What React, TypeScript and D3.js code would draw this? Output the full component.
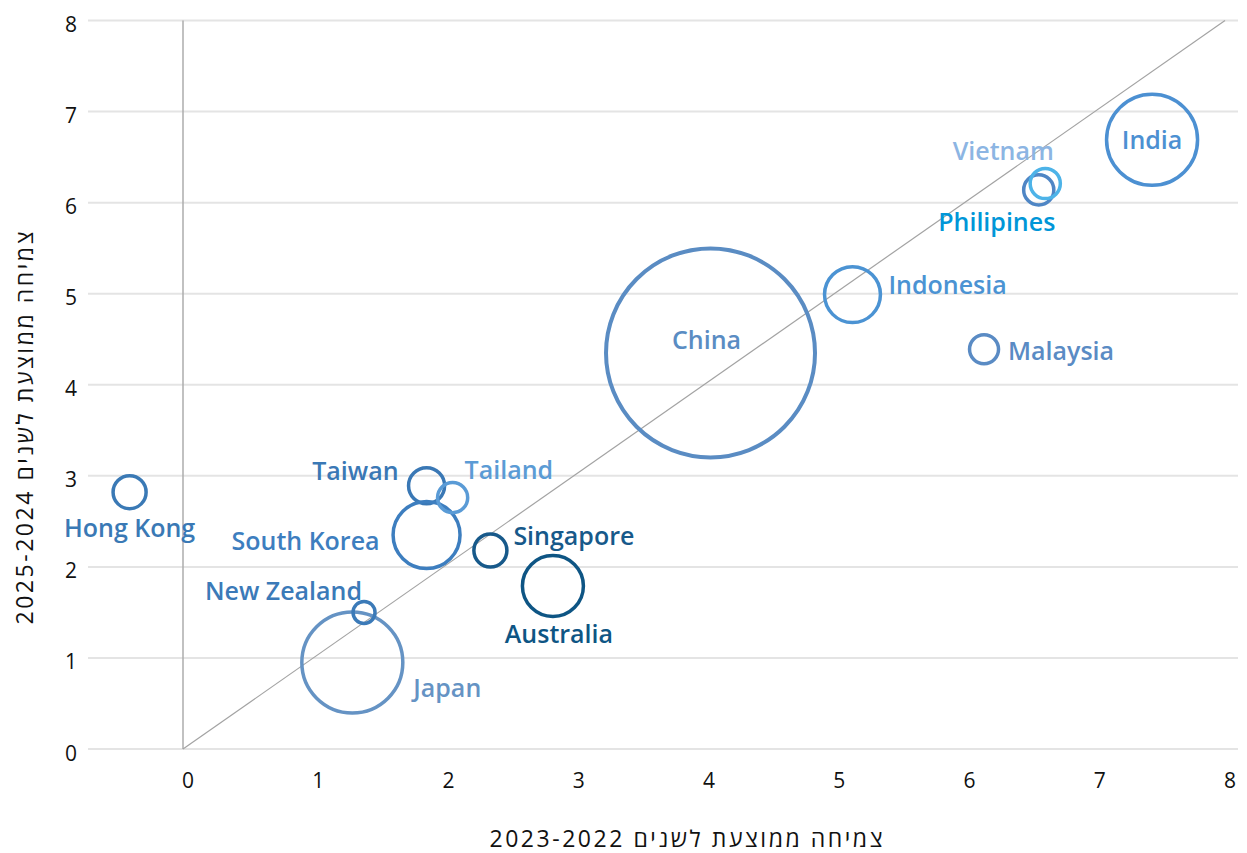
import React from "react";
import * as d3 from "d3";

const countries = ["Japan", "New Zealand", "Taiwan", "South Korea", "Tailand", "Hong Kong", "Singapore", "Australia", "China", "Indonesia", "Malaysia", "Philipines", "Vietnam", "India"];
const growth2223 = [1.30, 1.39, 1.87, 1.87, 2.07, -0.41, 2.36, 2.84, 4.05, 5.14, 6.15, 6.57, 6.62, 7.44];
const growth2425 = [0.95, 1.50, 2.89, 2.35, 2.76, 2.82, 2.18, 1.79, 4.35, 4.99, 4.39, 6.14, 6.21, 6.69];
const gdpSize = [4.33, 0.25, 0.61, 1.96, 0.44, 0.52, 0.52, 1.64, 18.0, 1.39, 0.41, 0.44, 0.44, 3.54];
const xTicks = [0, 1, 2, 3, 4, 5, 6, 7, 8];
const yTicks = [0, 1, 2, 3, 4, 5, 6, 7, 8];
const xTitle = "2023-2022 צמיחה ממוצעת לשנים";
const yTitle = "2025-2024 צמיחה ממוצעת לשנים";

// styling / layout (not data)
const circleColor: Record<string, string> = {
  "Japan": "#6593c4", "New Zealand": "#3b7ab8", "Taiwan": "#3a78b5", "South Korea": "#3d7ebf",
  "Tailand": "#5a9bd6", "Hong Kong": "#3a79b5", "Singapore": "#17598a", "Australia": "#0e5584",
  "China": "#5a8cc3", "Indonesia": "#4b93d3", "Malaysia": "#5a8bc4", "Philipines": "#4f86c5",
  "Vietnam": "#4db3e8", "India": "#4c90d2",
};
const labelColor: Record<string, string> = {
  ...circleColor, "Philipines": "#0096d8", "Vietnam": "#8cb5e3", "Tailand": "#5b9bd5",
};
const labelPlace: Record<string, [number, number, string]> = {
  "Hong Kong": [0, 45, "middle"],
  "Taiwan": [-28, -6, "end"],
  "Tailand": [12, -19, "start"],
  "South Korea": [-47, 15, "end"],
  "Singapore": [23, -5, "start"],
  "Australia": [6, 57, "middle"],
  "New Zealand": [-2, -12, "end"],
  "Japan": [61, 35, "start"],
  "China": [-4, -4, "middle"],
  "Indonesia": [36, -1, "start"],
  "Malaysia": [24, 11, "start"],
  "Philipines": [-42, 41, "middle"],
  "Vietnam": [-42, -24, "middle"],
  "India": [0, 9, "middle"],
};

const W = 1247, H = 853;
const x = d3.scaleLinear().domain([0, 8]).range([183, 1225]);
const y = d3.scaleLinear().domain([0, 8]).range([749, 20.5]);
const r = d3.scaleSqrt().domain([0, 18]).range([0, 106]);
const gridLeft = 88, gridRight = 1238;

export default function App() {
  const tickFont = "'Open Sans', 'Noto Sans', 'DejaVu Sans', sans-serif";
  const labelFont = "'Open Sans', 'Noto Sans', sans-serif";
  const data = countries.map((c, i) => ({ c, x: growth2223[i], y: growth2425[i], s: gdpSize[i] }));
  return (
    <svg width={W} height={H} style={{ position: "absolute", left: 0, top: 0, background: "#fff" }}>
      {yTicks.map((t) => (
        <line key={"g" + t} x1={gridLeft} x2={gridRight} y1={y(t)} y2={y(t)} stroke="#e4e4e4" strokeWidth={2} />
      ))}
      <line x1={x(0)} x2={x(0)} y1={y(8)} y2={y(0)} stroke="#acacac" strokeWidth={1.5} />
      <line x1={x(0)} y1={y(0)} x2={x(8)} y2={y(8)} stroke="#a3a3a3" strokeWidth={1.2} />
      {yTicks.map((t) => (
        <text key={"yt" + t} x={71} y={y(t) + 11.5} textAnchor="middle" fontFamily={tickFont} fontSize={21} fill="#111">{t}</text>
      ))}
      {xTicks.map((t) => (
        <text key={"xt" + t} x={x(t) + 5} y={788} textAnchor="middle" fontFamily={tickFont} fontSize={21} fill="#111">{t}</text>
      ))}
      <text x={686} y={847} textAnchor="middle" fontFamily={tickFont} fontSize={23} textLength={393} lengthAdjust="spacing" fill="#111">{xTitle}</text>
      <text transform={`translate(33,428) rotate(-90)`} textAnchor="middle" fontFamily={tickFont} fontSize={23} textLength={393} lengthAdjust="spacing" fill="#111">{yTitle}</text>
      {data.map((d) => (
        <circle key={"c" + d.c} cx={x(d.x)} cy={y(d.y)} r={r(d.s) - 1.5} fill="none" stroke={circleColor[d.c]} strokeWidth={d.c === "China" ? 4 : 3.5} />
      ))}
      {data.map((d) => {
        const [dx, dy, anchor] = labelPlace[d.c];
        return (
          <text key={"l" + d.c} x={x(d.x) + dx} y={y(d.y) + dy} textAnchor={anchor as any} fontFamily={labelFont} fontWeight={600} fontSize={25} letterSpacing={0} fill={labelColor[d.c]}>{d.c}</text>
        );
      })}
    </svg>
  );
}
